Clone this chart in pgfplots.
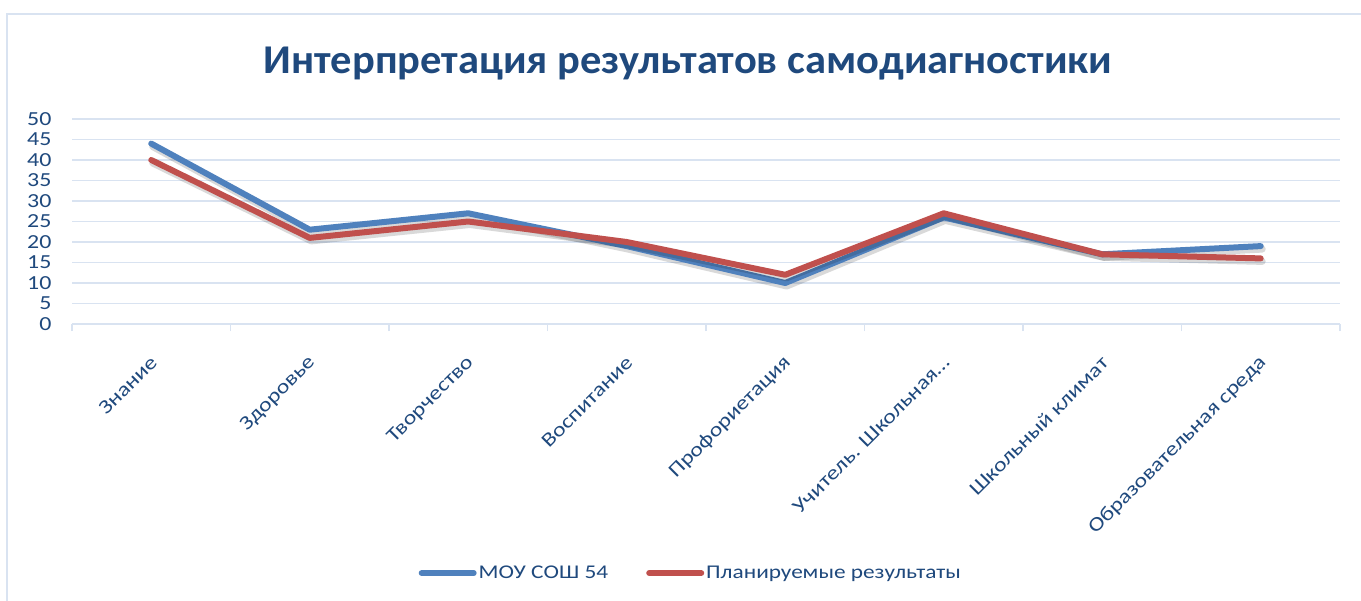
\documentclass[border=0pt]{standalone}
\usepackage{fontspec}
\setmainfont{Carlito}
\newfontfamily\wide{Carlito}[FakeStretch=1.2]
\newfontfamily\titlef{Carlito}[FakeStretch=1.04]
\usepackage{pgfplots}
\pgfplotsset{compat=1.18}
\definecolor{txt}{RGB}{31,73,125}
\definecolor{gridc}{RGB}{217,227,241}
\definecolor{sblue}{RGB}{79,129,189}
\definecolor{sred}{RGB}{192,80,77}
\begin{document}
\begin{tikzpicture}
\useasboundingbox (0,0) rectangle (1361bp,601bp);
\fill[white] (0,0) rectangle (1361bp,601bp);
\draw[gridc, line width=1.5bp] (1365bp,587bp) -- (7bp,587bp) -- (7bp,-5bp);
\node[font=\titlef\bfseries\fontsize{41}{48}\selectfont, text=txt] at (688bp,537bp) {Интерпретация результатов самодиагностики};
\begin{axis}[
  scale only axis,
  width=1268bp, height=205bp,
  at={(72bp,277bp)}, anchor=south west,
  xmin=-0.5, xmax=7.5, ymin=0, ymax=50,
  ytick={0,5,10,15,20,25,30,35,40,45,50},
  xtick={0,1,2,3,4,5,6,7},
  xticklabels={Знание,Здоровье,Творчество,Воспитание,Профориетация,{Учитель. Школьная\ldots},Школьный климат,Образовательная среда},
  minor xtick={-0.5,0.5,1.5,2.5,3.5,4.5,5.5,6.5,7.5},
  axis x line*=bottom,
  axis y line*=left,
  y axis line style={draw=none},
  x axis line style={gridc, line width=1.5bp},
  major tick length=0pt,
  minor tick length=7bp,
  tick align=outside,
  minor tick style={gridc, line width=1.5bp},
  ymajorgrids,
  grid style={gridc, line width=1.2bp},
  /pgf/number format/assume math mode=true,
  ticklabel style={font=\wide\fontsize{20}{22}\selectfont, text=txt},
  yticklabel style={xshift=-17bp},
  xticklabel style={rotate=45, anchor=east, xshift=-20bp, yshift=-27bp},
  legend style={at={(0.488,-1.215)}, anchor=center, draw=none, fill=none,
    legend columns=2, font=\wide\fontsize{19.5}{22}\selectfont, text=txt,
    /tikz/every even column/.append style={column sep=36bp}},
  legend image code/.code={\draw[#1, line width=6bp, line cap=round] (0bp,0bp) -- (52bp,0bp);},
  clip=false,
]
\addplot[black, opacity=0.15, line width=7bp, line join=round, line cap=round, shift={(1.5bp,-3bp)}, forget plot] coordinates {(0,44) (1,23) (2,27) (3,19) (4,10) (5,26) (6,17) (7,19)};
\addplot[sblue, line width=6bp, line join=round, line cap=round] coordinates {(0,44) (1,23) (2,27) (3,19) (4,10) (5,26) (6,17) (7,19)};
\addlegendentry{МОУ СОШ 54}
\addplot[black, opacity=0.15, line width=7bp, line join=round, line cap=round, shift={(1.5bp,-3bp)}, forget plot] coordinates {(0,40) (1,21) (2,25) (3,20) (4,12) (5,27) (6,17) (7,16)};
\addplot[sred, line width=6bp, line join=round, line cap=round] coordinates {(0,40) (1,21) (2,25) (3,20) (4,12) (5,27) (6,17) (7,16)};
\addlegendentry{Планируемые результаты}
\end{axis}
\end{tikzpicture}
\end{document}
